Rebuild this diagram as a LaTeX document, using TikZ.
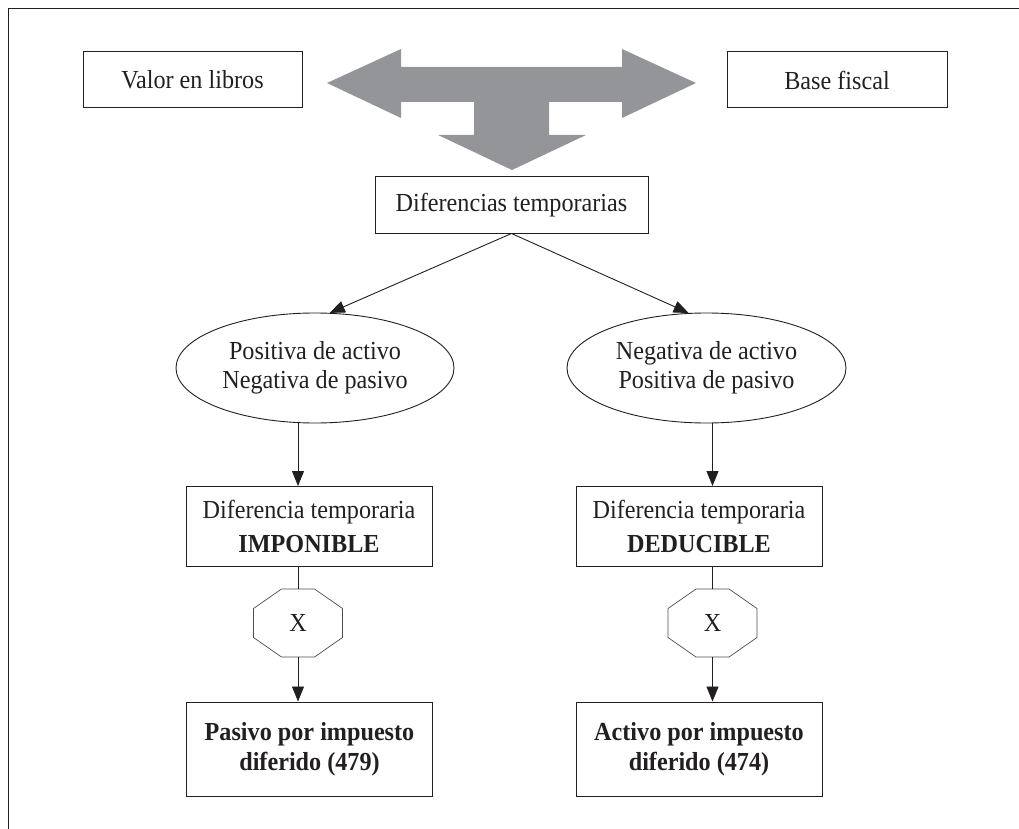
\documentclass[tikz,border=0pt]{standalone}
\usepackage{fontspec}
\setmainfont[FakeStretch=0.93]{Liberation Serif}
\usetikzlibrary{arrows.meta,shapes.geometric}
\definecolor{bigarrow}{RGB}{147,149,152}
\definecolor{ink}{RGB}{35,31,32}
\tikzset{
  every node/.style={text=ink, font=\fontsize{26}{34}\selectfont},
  boxnode/.style={draw=ink, line width=1pt, inner sep=0pt, align=center},
  ellnode/.style={draw=ink, line width=0.9pt, ellipse, inner sep=0pt, align=center,
                  font=\fontsize{26}{29}\selectfont},
  resbox/.style={boxnode, font=\fontsize{26}{30}\selectfont\bfseries},
  octnode/.style={inner sep=0pt, minimum width=89pt, minimum height=68pt},
  octline/.style={draw=ink!80, line width=0.7pt},
  conn/.style={draw=ink, line width=0.9pt},
  arr/.style={conn, -{Triangle[length=15pt,width=12pt]}},
}
\begin{document}
\begin{tikzpicture}[x=1pt,y=-1pt]
\useasboundingbox (0,0) rectangle (1019,829);
% frame
\draw[ink, line width=1pt] (1019,9) -- (8,9) -- (8,829);
% big gray three-way arrow
\fill[bigarrow] (327,83) -- (401,49) -- (401,67) -- (622,67) -- (622,49) -- (696,83)
  -- (622,118) -- (622,102) -- (549,102) -- (549,135) -- (586,135) -- (512,170)
  -- (438,135) -- (474,135) -- (474,102) -- (401,102) -- (401,118) -- cycle;
% nodes
\node[boxnode, minimum width=219pt, minimum height=56pt] (valor) at (192.5,80) {Valor en libros};
\node[boxnode, minimum width=220pt, minimum height=56pt] (base) at (837,80) {Base fiscal};
\node[boxnode, minimum width=273pt, minimum height=56pt] (dif) at (511.5,205) {Diferencias temporarias};
\node[ellnode, minimum width=278pt, minimum height=110pt] (el1) at (315,368) {Positiva de activo\\Negativa de pasivo};
\node[ellnode, minimum width=279pt, minimum height=110pt] (el2) at (706.5,368) {Negativa de activo\\Positiva de pasivo};
\node[boxnode, minimum width=246pt, minimum height=80pt] (imp) at (309,526.5) {Diferencia temporaria\\\textbf{IMPONIBLE}};
\node[boxnode, minimum width=246pt, minimum height=80pt] (ded) at (699,526.5) {Diferencia temporaria\\\textbf{DEDUCIBLE}};
\node[octnode] (oc1) at (298,623) {X};
\node[octnode] (oc2) at (712.5,623) {X};
\node[resbox, minimum width=246pt, minimum height=94pt] (pas) at (309.5,749) {Pasivo por impuesto\\diferido (479)};
\node[resbox, minimum width=246pt, minimum height=94pt] (act) at (699,749) {Activo por impuesto\\diferido (474)};
% octagon outlines
\foreach \o in {oc1,oc2}{
  \draw[octline] ([shift={(-16.5,-34)}]\o.center) -- ([shift={(16.5,-34)}]\o.center)
    -- ([shift={(44.5,-14.5)}]\o.center) -- ([shift={(44.5,14.5)}]\o.center)
    -- ([shift={(16.5,34)}]\o.center) -- ([shift={(-16.5,34)}]\o.center)
    -- ([shift={(-44.5,14.5)}]\o.center) -- ([shift={(-44.5,-14.5)}]\o.center) -- cycle;
}
% connectors
\draw[arr] (dif.south) -- (el1.75);
\draw[arr] (dif.south) -- (el2.108);
\draw[arr] (el1.south -| oc1) -- (imp.north -| oc1);
\draw[arr] (el2.south -| oc2) -- (ded.north -| oc2);
\draw[conn] (imp.south -| oc1) -- (oc1.north);
\draw[conn] (ded.south -| oc2) -- (oc2.north);
\draw[arr] (oc1.south) -- (pas.north -| oc1);
\draw[arr] (oc2.south) -- (act.north -| oc2);
\end{tikzpicture}
\end{document}
